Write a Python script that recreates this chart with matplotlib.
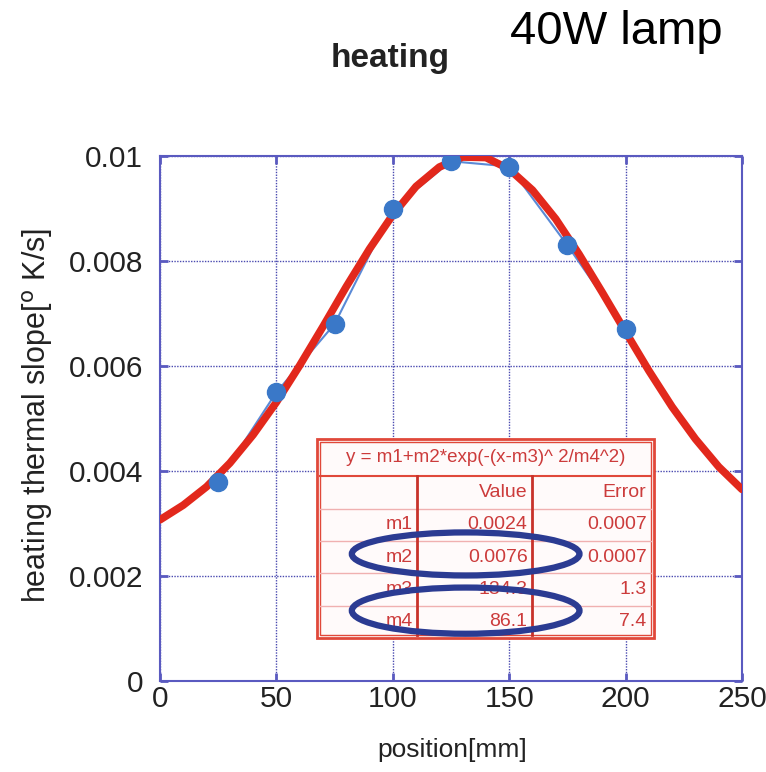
import matplotlib
matplotlib.use("Agg")
import matplotlib.pyplot as plt
from matplotlib.patches import Rectangle, Ellipse

# measured points (position in mm, slope in K/s)
pos = [25, 50, 75, 100, 125, 150, 175, 200]
slope = [0.0038, 0.0055, 0.0068, 0.0090, 0.0099, 0.0098, 0.0083, 0.0067]

# red fitted curve, every 10 mm
fit_pos = [0, 10, 20, 30, 40, 50, 60, 70, 80, 90, 100, 110, 120, 130,
           140, 150, 160, 170, 180, 190, 200, 210, 220, 230, 240, 250]
fit_slope = [0.00307, 0.00335, 0.00370, 0.00415, 0.00469, 0.00531, 0.00601,
             0.00675, 0.00751, 0.00823, 0.00888, 0.00942, 0.00979, 0.00998,
             0.00997, 0.00975, 0.00935, 0.00880, 0.00813, 0.00740, 0.00665,
             0.00591, 0.00522, 0.00461, 0.00408, 0.00365]

# fit table
fit_formula = "y = m1+m2*exp(-(x-m3)^ 2/m4^2)"
param_names = ["m1", "m2", "m3", "m4"]
param_values = ["0.0024", "0.0076", "134.3", "86.1"]
param_errors = ["0.0007", "0.0007", "1.3", "7.4"]

xticks = [0, 50, 100, 150, 200, 250]
yticks = [0, 0.002, 0.004, 0.006, 0.008, 0.01]
ytick_labels = ["0", "0.002", "0.004", "0.006", "0.008", "0.01"]

plt.rcParams['font.family'] = ['Liberation Sans', 'DejaVu Sans']

fig = plt.figure(figsize=(7.66, 7.72), dpi=100)
ax = fig.add_axes([160/766, 1 - 681/772, 582/766, 525/772])

frame_col = "#5a5ac0"
grid_col = "#4a4ab0"

ax.plot(pos, slope, color="#5b8ad6", lw=1.5, zorder=3)
ax.plot(fit_pos, fit_slope, color="#e2281c", lw=5.5, solid_capstyle="round",
        solid_joinstyle="round", zorder=4)
ax.plot(pos, slope, "o", color="#3a78c8", ms=13, zorder=5)

ax.set_xlim(0, 250)
ax.set_ylim(0, 0.01)
ax.set_xticks(xticks)
ax.set_yticks(yticks)
ax.set_yticklabels(ytick_labels)
ax.grid(True, color=grid_col, ls=(0, (1, 1)), lw=1.0)
ax.set_axisbelow(True)
for s in ax.spines.values():
    s.set_color(frame_col)
    s.set_linewidth(1.5)
ax.tick_params(direction="in", length=6, width=2, color=frame_col,
               top=True, right=True, labelsize=21.5, labelcolor="#222222")
ax.tick_params(axis="x", pad=3)
ax.tick_params(axis="y", pad=12)

# ---- fit result table drawn inside the plot ----
tx0, tx1 = 67.5, 212.0
ty0, ty1 = 0.00082, 0.00461
head_bot = 0.0039
row_h = (head_bot - ty0) / 5
col_x = [tx0, 110.5, 159.9, tx1]
tab_red = "#e0483a"
txt_red = "#cc3b3b"

ax.add_patch(Rectangle((tx0, ty0), tx1 - tx0, ty1 - ty0, facecolor="#fffafa",
                       edgecolor=tab_red, lw=2.0, zorder=6))
ax.add_patch(Rectangle((tx0 + 1.3, ty0 + 0.00005), tx1 - tx0 - 2.6, ty1 - ty0 - 0.0001,
                       facecolor="none", edgecolor=tab_red, lw=1.0, zorder=7))
ax.plot([tx0 + 1.3, tx1 - 1.3], [head_bot, head_bot], color=tab_red, lw=1.5, zorder=7)
for i in range(1, 5):
    yy = head_bot - i * row_h
    ax.plot([tx0 + 1.3, tx1 - 1.3], [yy, yy], color="#f0b0b0", lw=1.0, zorder=7)
for cx in col_x[1:3]:
    ax.plot([cx, cx], [ty0 + 0.00005, head_bot], color="#c8322a", lw=2.0, zorder=7)

ax.text((tx0 + tx1) / 2, (ty1 + head_bot) / 2, fit_formula, color=txt_red,
        fontsize=13.5, ha="center", va="center", zorder=8)
ax.text(col_x[2] - 2, head_bot - row_h / 2, "Value", color=txt_red,
        fontsize=14, ha="right", va="center", zorder=8)
ax.text(col_x[3] - 3, head_bot - row_h / 2, "Error", color=txt_red,
        fontsize=14, ha="right", va="center", zorder=8)
for i, name in enumerate(param_names):
    yy = head_bot - (i + 1.5) * row_h
    ax.text(col_x[1] - 2, yy, name, color=txt_red, fontsize=14, ha="right", va="center", zorder=8)
    ax.text(col_x[2] - 2, yy, param_values[i], color=txt_red, fontsize=14, ha="right", va="center", zorder=8)
    ax.text(col_x[3] - 3, yy, param_errors[i], color=txt_red, fontsize=14, ha="right", va="center", zorder=8)

# blue highlight rings around m2 and m4
ax.add_patch(Ellipse((131.3, 0.00242), 97.8, 0.00082, facecolor="none",
                     edgecolor="#2b3b92", lw=4.5, zorder=9))
ax.add_patch(Ellipse((131.3, 0.00134), 97.8, 0.00088, facecolor="none",
                     edgecolor="#2b3b92", lw=4.5, zorder=9))

# labels
fig.text(452/766, 1 - 750/772, "position[mm]", fontsize=19, color="#222222",
         ha="center", va="center")
fig.text(38/766, 1 - 415/772, r"heating thermal slope[$^{\rm o}$ K/s]", fontsize=22,
         color="#222222", ha="center", va="center", rotation=90)
fig.text(390/766, 1 - 58/772, "heating", fontsize=24, fontweight="bold",
         color="#222222", ha="center", va="center")
fig.text(510/766, 1 - 32/772, "40W lamp", fontsize=34, color="black",
         ha="left", va="center")

fig.savefig("out.png", dpi=100)
